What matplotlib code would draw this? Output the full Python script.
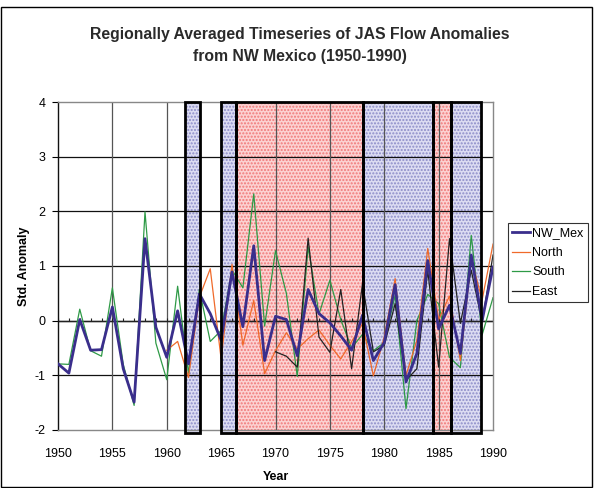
import matplotlib
matplotlib.use("Agg")
import matplotlib.pyplot as plt
from matplotlib.patches import Rectangle
import numpy as np

plt.rcParams['font.family'] = ['Liberation Sans', 'DejaVu Sans']
plt.rcParams['axes.unicode_minus'] = False

years = list(range(1950, 1991))

nw_mex = [-0.79, -0.96, 0.02, -0.54, -0.53, 0.25, -0.88, -1.49, 1.50, -0.12,
          -0.67, 0.18, -0.79, 0.49, 0.13, -0.36, 0.89, -0.11, 1.37, -0.73,
          0.08, 0.02, -0.64, 0.57, 0.13, -0.04, -0.28, -0.54, 0.10, -0.73,
          -0.40, 0.66, -1.12, -0.60, 1.10, -0.15, 0.28, -0.60, 1.20, 0.00,
          0.98]

north_years = list(range(1960, 1991))
north = [-0.54, -0.38, -1.04, 0.43, 0.95, -0.70, 1.03, -0.45, 0.37, -0.97,
         -0.55, -0.22, -0.52, -0.33, -0.17, -0.45, -0.70, -0.38, -0.06, -1.01,
         -0.30, 0.77, -1.00, -0.36, 1.32, 0.02, 0.45, -0.73, 1.13, 0.38,
         1.40]

south = [-0.79, -0.80, 0.21, -0.55, -0.65, 0.60, -0.80, -1.55, 1.99, -0.41,
         -1.08, 0.63, -0.96, 0.57, -0.38, -0.18, 0.93, 0.60, 2.32, -0.10,
         1.28, 0.50, -1.02, 1.35, 0.12, 0.74, 0.02, -0.50, -0.25, -0.55,
         -0.40, 0.46, -1.61, 0.00, 0.48, 0.31, -0.67, -0.86, 1.56, -0.26,
         0.42]

east_years = list(range(1970, 1991))
east = [-0.57, -0.65, -0.85, 1.51, -0.30, -0.58, 0.57, -0.88, 0.68, -0.57,
        -0.45, 0.31, -1.09, -0.88, 0.92, -0.85, 1.50, -0.05, 0.92, -0.02,
        1.20]

# regime periods (start, end, type)
periods = [(1961.7, 1963.1, 'blue'), (1965.0, 1966.4, 'blue'),
           (1966.4, 1978.0, 'red'), (1978.0, 1984.5, 'blue'),
           (1984.5, 1986.1, 'red'), (1986.1, 1988.9, 'blue')]

fig = plt.figure(figsize=(5.94, 4.88), dpi=100)
ax = fig.add_axes([58/594, 1-430/488, 435/594, 328/488])

ax.set_xlim(1950, 1990)
ax.set_ylim(-2, 4)

fills = {'blue': ('#dcdcf2', '#8c8cc8'), 'red': ('#fcd2d2', '#f07878')}
for x0, x1, kind in periods:
    fc, hc = fills[kind]
    ax.add_patch(Rectangle((x0, -2.05), x1 - x0, 6.05, facecolor=fc,
                           edgecolor=hc, hatch='.....', linewidth=0,
                           zorder=0.5, clip_on=False))
for x0, x1, kind in periods:
    ax.add_patch(Rectangle((x0, -2.05), x1 - x0, 6.05, facecolor='none',
                           edgecolor='black', linewidth=2.0, zorder=5,
                           clip_on=False))

# grid
for yv in range(-1, 4):
    ax.axhline(yv, color='#111111', lw=0.9, zorder=1)
for xv in range(1955, 1990, 5):
    ax.axvline(xv, color='#555555', lw=0.9, zorder=1)
ax.axhline(0, color='#222222', lw=1.0, zorder=1.5)
ax.vlines(years, 0, 0.05, color='#222222', lw=0.8, zorder=1.5)

ax.plot(years, south, color='#2e9a46', lw=0.9, zorder=2, label='South')
ax.plot(north_years, north, color='#f06a2a', lw=0.9, zorder=2.1, label='North')
ax.plot(east_years, east, color='#222222', lw=0.9, zorder=2.2, label='East')
ax.plot(years, nw_mex, color='#3a2e8c', lw=2.0, zorder=3, label='NW_Mex')

for s in ['top', 'right', 'bottom', 'left']:
    ax.spines[s].set_color('#888888')
    ax.spines[s].set_linewidth(1.0)
ax.spines['left'].set_color('#111111')

ax.set_yticks(range(-2, 5))
ax.set_xticks(range(1950, 1991, 5))
ax.tick_params(axis='y', labelsize=9, length=4, direction='out', pad=5)
ax.tick_params(axis='x', labelsize=9, length=0, pad=13)

ax.set_ylabel('Std. Anomaly', fontsize=9, fontweight='bold', labelpad=3)
ax.set_xlabel('Year', fontsize=9, fontweight='bold', labelpad=8)

handles, labels = ax.get_legend_handles_labels()
order = [labels.index(n) for n in ['NW_Mex', 'North', 'South', 'East']]
leg = fig.legend([handles[i] for i in order], [labels[i] for i in order],
                 loc='upper left', bbox_to_anchor=(508/594, 1-223/488),
                 fontsize=9, frameon=True, fancybox=False, borderpad=0.35,
                 labelspacing=0.6, handlelength=1.4, handletextpad=0.2,
                 borderaxespad=0)
leg.get_frame().set_edgecolor('black')
leg.get_frame().set_linewidth(0.8)

fig.text(300/594, 1-34/488, 'Regionally Averaged Timeseries of JAS Flow Anomalies',
         ha='center', va='center', fontsize=11.3, fontweight='bold', color='#2a2a2a')
fig.text(300/594, 1-57/488, 'from NW Mexico (1950-1990)',
         ha='center', va='center', fontsize=11.3, fontweight='bold', color='#2a2a2a')

fig.add_artist(Rectangle((0.002, 0.003), 0.995, 1-7/488-0.003,
                         transform=fig.transFigure, facecolor='none',
                         edgecolor='black', linewidth=1.0))

fig.savefig('out.png', dpi=100)
